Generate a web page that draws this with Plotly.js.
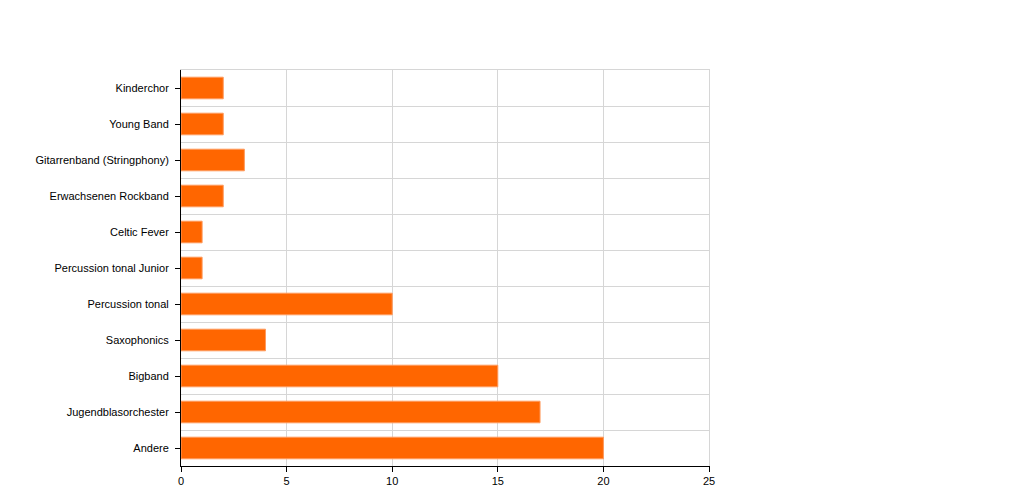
<!DOCTYPE html>
<html>
<head>
<meta charset="utf-8">
<script src="https://cdn.plot.ly/plotly-3.0.1.min.js"></script>
<style>html,body{margin:0;padding:0;background:#fff;}#chart{width:1024px;height:502px;}</style>
</head>
<body>
<div id="chart"></div>
<script>
const categories = ["Kinderchor", "Young Band", "Gitarrenband (Stringphony)", "Erwachsenen Rockband", "Celtic Fever", "Percussion tonal Junior", "Percussion tonal", "Saxophonics", "Bigband", "Jugendblasorchester", "Andere"];
const values = [2, 2, 3, 2, 1, 1, 10, 4, 15, 17, 20];
const xTicks = [0, 5, 10, 15, 20, 25];

const font = {family: "Liberation Sans, Arial, sans-serif", size: 11, color: "#000"};
const grid = "#d6d6d6";

const data = [
  {
    type: "bar", orientation: "h", x: values, y: categories,
    marker: {color: "#ff6600", line: {color: "#ff9a5c", width: 1}},
    hoverinfo: "x+y"
  },
  {
    type: "bar", orientation: "h", x: values, y: categories, xaxis: "x2", yaxis: "y2",
    marker: {color: "rgba(0,0,0,0)"}, hoverinfo: "skip", showlegend: false
  }
];

const layout = {
  width: 1024, height: 502,
  margin: {l: 181, r: 315, t: 70, b: 36, pad: 0},
  paper_bgcolor: "#fff", plot_bgcolor: "#fff",
  showlegend: false,
  bargap: 0.4,
  font: font,
  xaxis: {
    range: [0, 25], tickvals: xTicks, ticks: "outside", ticklen: 5, tickcolor: "#000",
    showline: true, linecolor: "#000", linewidth: 1,
    showgrid: true, gridcolor: grid, gridwidth: 1, zeroline: false,
    tickfont: font
  },
  xaxis2: {
    range: [0, 25], overlaying: "x", side: "top",
    showticklabels: false, ticks: "", showgrid: false, zeroline: false,
    showline: true, linecolor: grid, linewidth: 1
  },
  yaxis: {
    type: "category", categoryorder: "array", categoryarray: categories,
    autorange: "reversed",
    ticks: "outside", ticklen: 5, tickcolor: "#000",
    showline: true, linecolor: "#000", linewidth: 1,
    showgrid: false, zeroline: false, tickfont: font, ticklabelstandoff: 4
  },
  yaxis2: {
    type: "category", categoryorder: "array", categoryarray: categories,
    autorange: "reversed", overlaying: "y", side: "right",
    tickson: "boundaries", ticks: "", showticklabels: false,
    showgrid: true, gridcolor: grid, gridwidth: 1,
    showline: true, linecolor: grid, linewidth: 1, zeroline: false
  }
};

Plotly.newPlot("chart", data, layout, {displayModeBar: false, staticPlot: true});
</script>
</body>
</html>
